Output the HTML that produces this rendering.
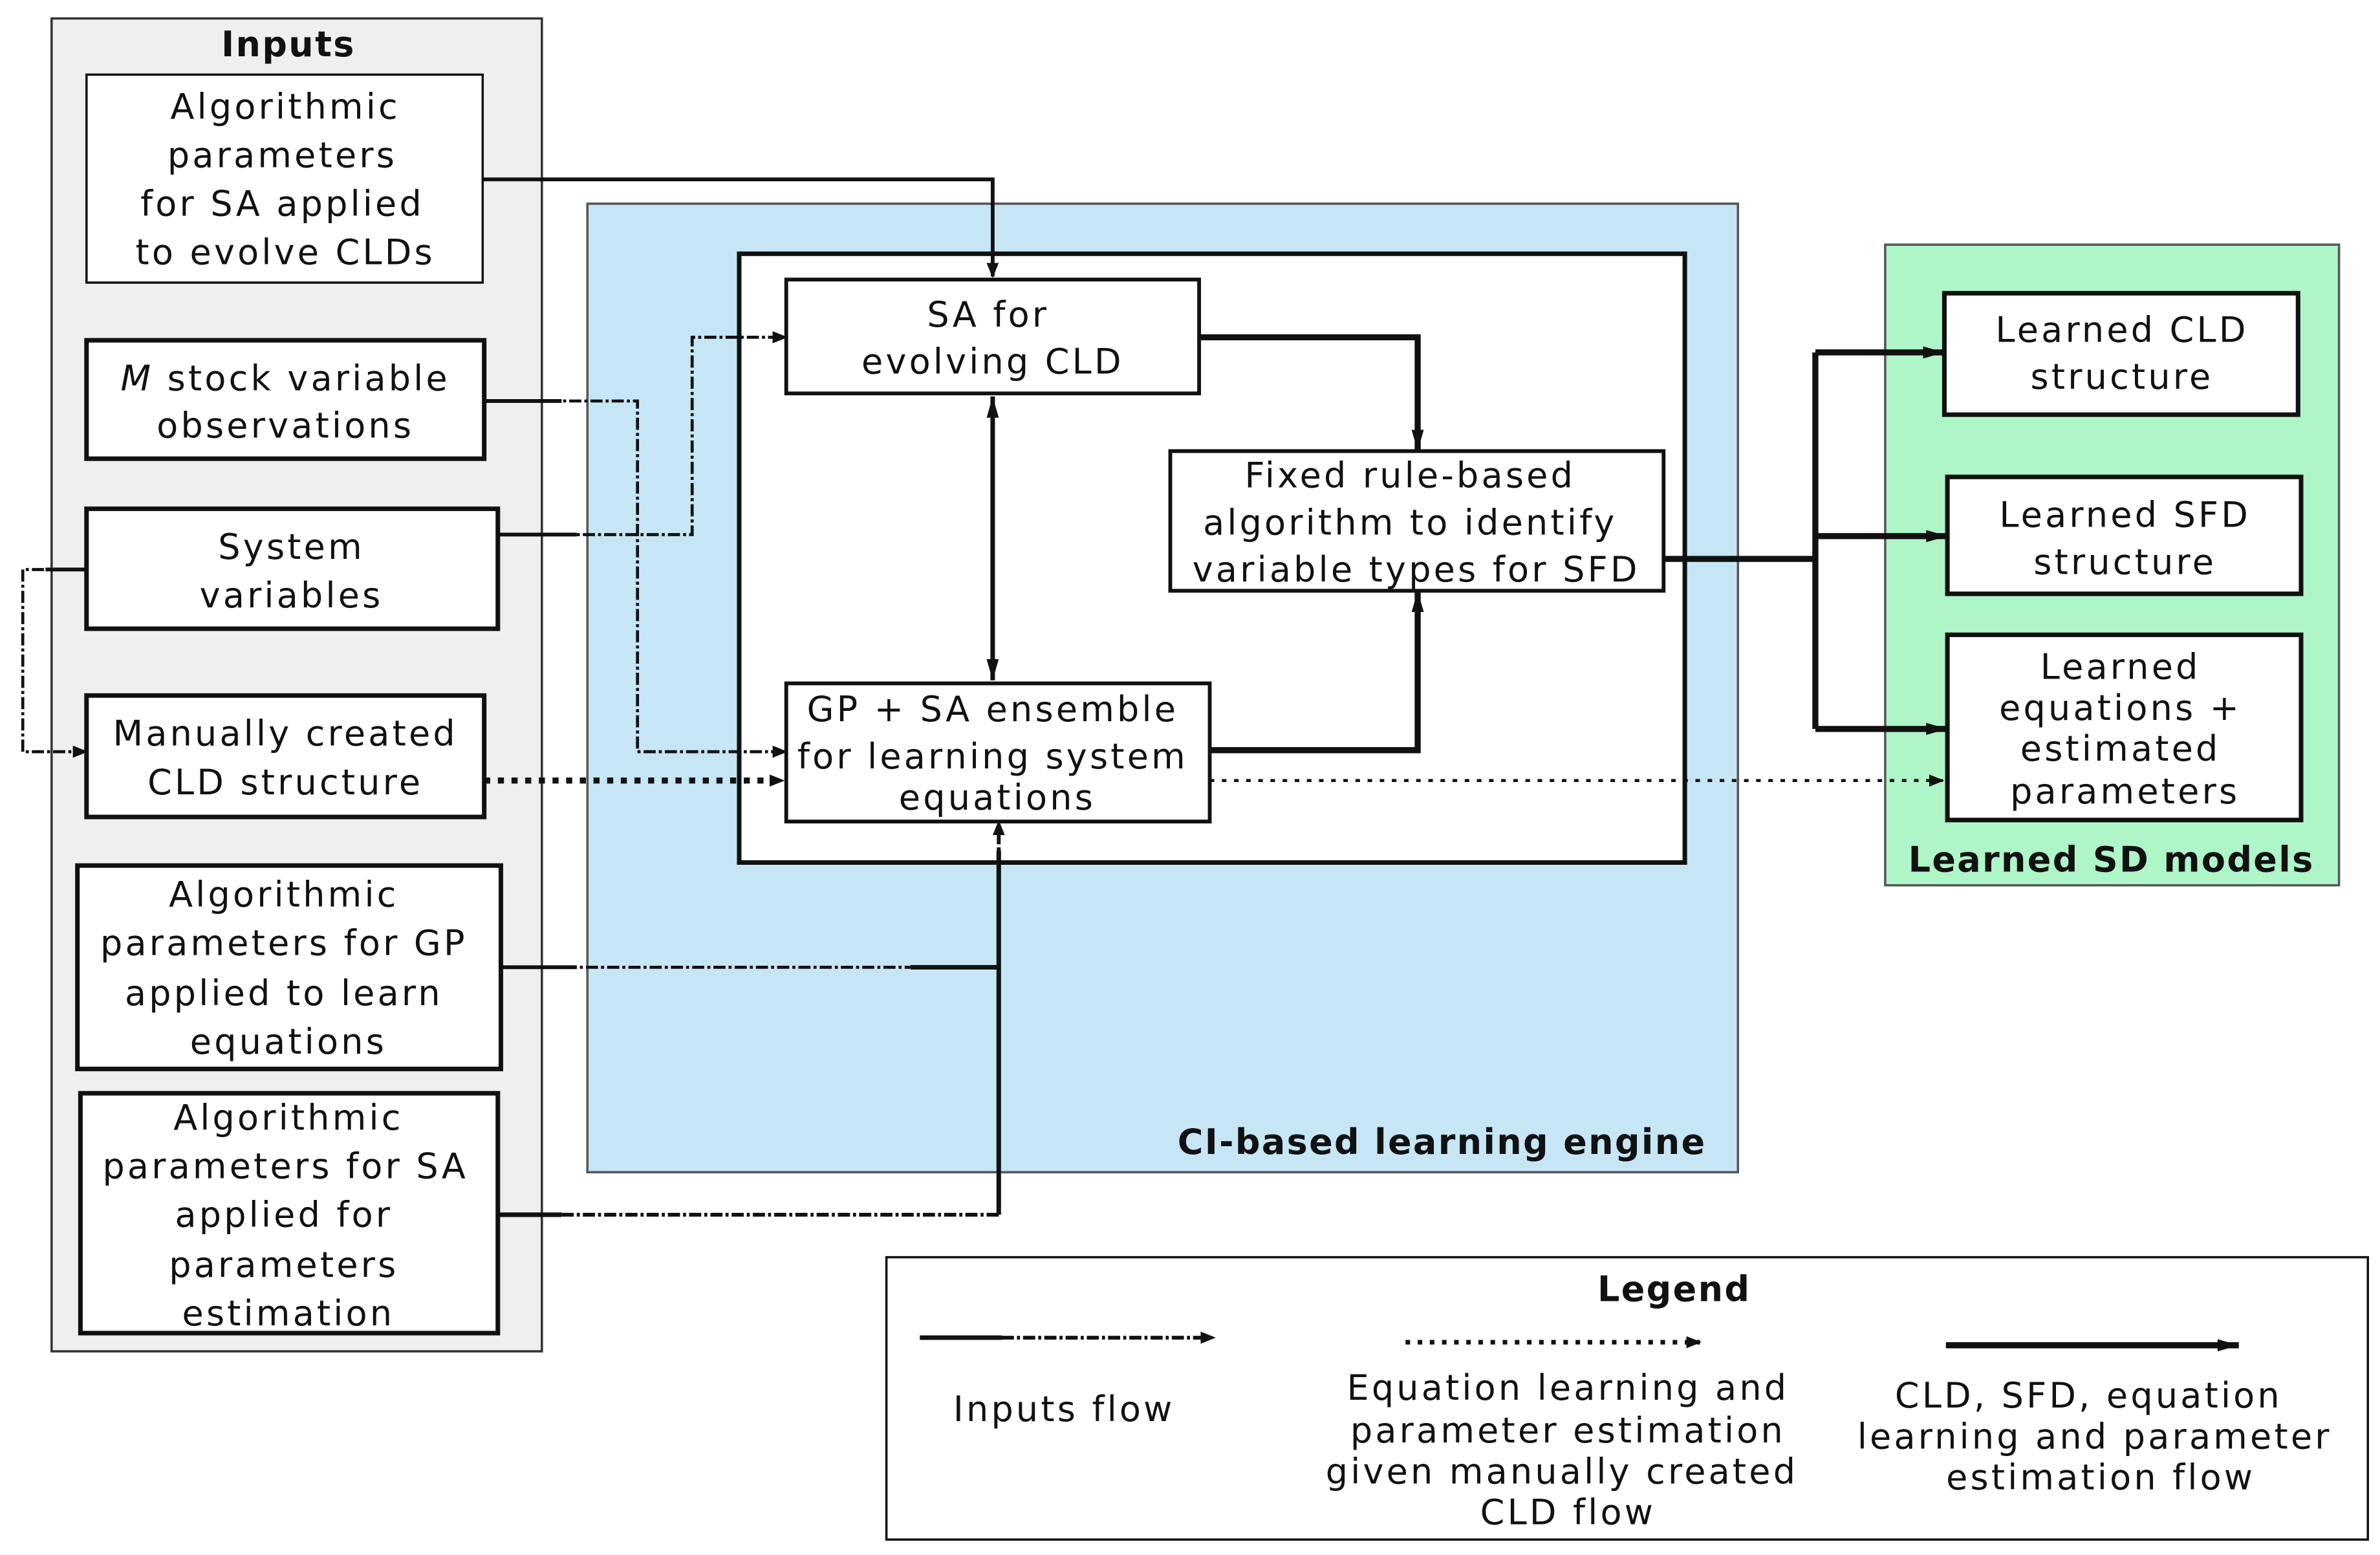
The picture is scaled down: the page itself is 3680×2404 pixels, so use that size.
<!DOCTYPE html>
<html><head><meta charset="utf-8"><style>
html,body{margin:0;padding:0;background:#fff;}
svg{display:block}
text{font-family:"DejaVu Sans","Liberation Sans",sans-serif;font-size:23px;fill:#111;text-anchor:middle;letter-spacing:1.8px}
.b{font-weight:bold;letter-spacing:1px}
</style></head><body>
<svg width="3680" height="2404" viewBox="0 0 1568 1024" xmlns="http://www.w3.org/2000/svg">
<defs>
<marker id="a" markerWidth="10" markerHeight="10" refX="9" refY="5" orient="auto" markerUnits="userSpaceOnUse"><path d="M0,1 L10,5 L0,9 z" fill="#111"/></marker>
<marker id="as" markerWidth="20" markerHeight="20" refX="18" refY="10" orient="auto-start-reverse" markerUnits="userSpaceOnUse"><path d="M4,6 L18,10 L4,14 z" fill="#111"/></marker>
</defs>
<rect x="0" y="0" width="1568" height="1024" fill="#fff"/>
<rect x="34" y="12" width="323" height="878" fill="#efefef" stroke="#333" stroke-width="1.5"/>
<text x="190" y="37" class="b">Inputs</text>
<rect x="387" y="134" width="758" height="638" fill="#c6e6f6" stroke="#555" stroke-width="1.5"/>
<text x="950" y="760" class="b">CI-based learning engine</text>
<rect x="487" y="167" width="623" height="401" fill="#fff" stroke="#111" stroke-width="3"/>
<rect x="1242" y="161" width="299" height="422" fill="#aef5c8" stroke="#555" stroke-width="1.5"/>
<text x="1391" y="574" class="b">Learned SD models</text>
<rect x="584" y="828" width="976" height="186" fill="#fff" stroke="#111" stroke-width="1.5"/>
<text x="1103" y="857" class="b">Legend</text>

<g fill="none" stroke="#111">
<path d="M318,118 H654 V182" stroke-width="2.5" marker-end="url(#a)"/>
<path d="M319,264 H420 V495 H518" stroke-width="2" stroke-dasharray="8,2,2,2" marker-end="url(#a)"/>
<path d="M319,264 H370" stroke-width="2.5"/>
<path d="M328,352 H456 V222 H518" stroke-width="2" stroke-dasharray="8,2,2,2" marker-end="url(#a)"/>
<path d="M328,352 H380" stroke-width="2.5"/>
<path d="M57,375 H15 V495 H57" stroke-width="2" stroke-dasharray="8,2,2,2" marker-end="url(#a)"/>
<path d="M57,375 H30" stroke-width="2.5"/>
<path d="M330,637 H658" stroke-width="2" stroke-dasharray="8,2,2,2"/>
<path d="M330,637 H380" stroke-width="2.5"/>
<path d="M328,800 H658 V541" stroke-width="2.5" stroke-dasharray="8,2,2,2" marker-end="url(#a)"/>
<path d="M328,800 H370" stroke-width="3"/>
<path d="M600,637 H658 M658,560 V800" stroke-width="3"/>
<path d="M319,514 H516" stroke-width="4" stroke-dasharray="4,5" marker-end="url(#a)"/>
<path d="M797,514 H1280" stroke-width="2" stroke-dasharray="3,5" marker-end="url(#a)"/>
<path d="M654,261 V448" stroke-width="3" marker-start="url(#as)" marker-end="url(#as)"/>
<path d="M790,222 H934 V297" stroke-width="4" marker-end="url(#as)"/>
<path d="M797,494 H934 V389" stroke-width="4" marker-end="url(#as)"/>
<path d="M1096,368 H1196 M1196,232 V480" stroke-width="4"/>
<path d="M1196,232 H1281" stroke-width="4" marker-end="url(#as)"/>
<path d="M1196,353 H1283" stroke-width="4" marker-end="url(#as)"/>
<path d="M1196,480 H1283" stroke-width="4" marker-end="url(#as)"/>
<path d="M606,881 H660" stroke-width="3"/>
<path d="M660,881 H800" stroke-width="2.5" stroke-dasharray="8,2,2,2" marker-end="url(#a)"/>
<path d="M926,884 H1120" stroke-width="3" stroke-dasharray="3,5" marker-end="url(#a)"/>
<path d="M1282,886 H1475" stroke-width="4" marker-end="url(#as)"/>
</g>

<g fill="#fff" stroke="#111">
<rect x="57" y="49" width="261" height="137" stroke-width="1.5"/>
<rect x="57" y="224" width="262" height="78" stroke-width="3"/>
<rect x="57" y="335" width="271" height="79" stroke-width="3"/>
<rect x="57" y="458" width="262" height="80" stroke-width="3"/>
<rect x="51" y="570" width="279" height="134" stroke-width="3"/>
<rect x="53" y="720" width="275" height="158" stroke-width="3"/>
<rect x="518" y="184" width="272" height="75" stroke-width="2.5"/>
<rect x="771" y="297" width="325" height="92" stroke-width="2.5"/>
<rect x="518" y="450" width="279" height="91" stroke-width="2.5"/>
<rect x="1281" y="193" width="233" height="80" stroke-width="3"/>
<rect x="1283" y="314" width="233" height="77" stroke-width="3"/>
<rect x="1283" y="418" width="233" height="122" stroke-width="3"/>
</g>

<text x="188" y="78">Algorithmic</text>
<text x="186" y="110">parameters</text>
<text x="186" y="142">for SA applied</text>
<text x="188" y="174">to evolve CLDs</text>
<text x="188" y="257"><tspan font-style="italic">M</tspan> stock variable</text>
<text x="188" y="288">observations</text>
<text x="192" y="368">System</text>
<text x="192" y="400">variables</text>
<text x="188" y="491">Manually created</text>
<text x="188" y="523">CLD structure</text>
<text x="187" y="597">Algorithmic</text>
<text x="187" y="629">parameters for GP</text>
<text x="187" y="662">applied to learn</text>
<text x="190" y="694">equations</text>
<text x="190" y="744">Algorithmic</text>
<text x="188" y="776">parameters for SA</text>
<text x="187" y="808">applied for</text>
<text x="187" y="841">parameters</text>
<text x="190" y="873">estimation</text>

<text x="651" y="215">SA for</text>
<text x="654" y="246">evolving CLD</text>
<text x="929" y="321">Fixed rule-based</text>
<text x="929" y="352">algorithm to identify</text>
<text x="933" y="383">variable types for SFD</text>
<text x="654" y="475">GP + SA ensemble</text>
<text x="654" y="506">for learning system</text>
<text x="657" y="533">equations</text>

<text x="1398" y="225">Learned CLD</text>
<text x="1398" y="256">structure</text>
<text x="1400" y="347">Learned SFD</text>
<text x="1400" y="378">structure</text>
<text x="1397" y="447">Learned</text>
<text x="1397" y="474">equations +</text>
<text x="1397" y="501">estimated</text>
<text x="1400" y="529">parameters</text>

<text x="701" y="936">Inputs flow</text>
<text x="1033" y="922">Equation learning and</text>
<text x="1033" y="950">parameter estimation</text>
<text x="1029" y="977">given manually created</text>
<text x="1033" y="1004">CLD flow</text>
<text x="1376" y="927">CLD, SFD, equation</text>
<text x="1380" y="954">learning and parameter</text>
<text x="1384" y="981">estimation flow</text>
</svg>
</body></html>
